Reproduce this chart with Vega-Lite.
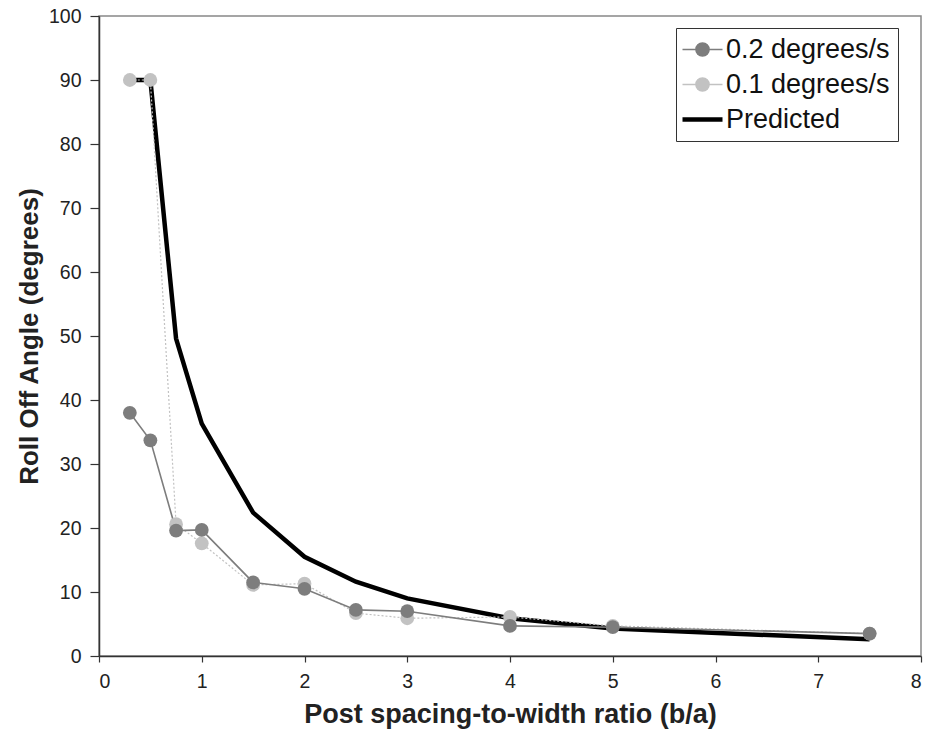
{
  "$schema": "https://vega.github.io/schema/vega-lite/v6.json",
  "autosize": "none",
  "width": 822,
  "height": 640,
  "padding": {"left": 99, "top": 16, "right": 9, "bottom": 84},
  "background": "white",
  "config": {
    "font": "Liberation Sans",
    "view": {"stroke": "#888888", "strokeWidth": 1.5},
    "axis": {
      "grid": false,
      "domainColor": "#333333",
      "domainWidth": 1.5,
      "tickColor": "#333333",
      "tickWidth": 1.2,
      "labelFont": "Liberation Sans",
      "labelFontSize": 19.5,
      "labelColor": "#222222",
      "titleFont": "Liberation Sans",
      "titleFontWeight": "bold",
      "titleColor": "#222222"
    }
  },
  "data": {
    "values": [
      {"series": "Predicted", "x": 0.3, "y": 90},
      {"series": "Predicted", "x": 0.5, "y": 90},
      {"series": "Predicted", "x": 0.75, "y": 49.6},
      {"series": "Predicted", "x": 1, "y": 36.3},
      {"series": "Predicted", "x": 1.5, "y": 22.4},
      {"series": "Predicted", "x": 2, "y": 15.5},
      {"series": "Predicted", "x": 2.5, "y": 11.6},
      {"series": "Predicted", "x": 3, "y": 9.0},
      {"series": "Predicted", "x": 4, "y": 5.9},
      {"series": "Predicted", "x": 5, "y": 4.3},
      {"series": "Predicted", "x": 7.5, "y": 2.6},
      {"series": "0.2 degrees/s", "x": 0.3, "y": 38.0},
      {"series": "0.2 degrees/s", "x": 0.5, "y": 33.7},
      {"series": "0.2 degrees/s", "x": 0.75, "y": 19.6},
      {"series": "0.2 degrees/s", "x": 1, "y": 19.7},
      {"series": "0.2 degrees/s", "x": 1.5, "y": 11.5},
      {"series": "0.2 degrees/s", "x": 2, "y": 10.5},
      {"series": "0.2 degrees/s", "x": 2.5, "y": 7.2},
      {"series": "0.2 degrees/s", "x": 3, "y": 7.0},
      {"series": "0.2 degrees/s", "x": 4, "y": 4.7},
      {"series": "0.2 degrees/s", "x": 5, "y": 4.5},
      {"series": "0.2 degrees/s", "x": 7.5, "y": 3.5},
      {"series": "0.1 degrees/s", "x": 0.3, "y": 90},
      {"series": "0.1 degrees/s", "x": 0.5, "y": 90},
      {"series": "0.1 degrees/s", "x": 0.75, "y": 20.6},
      {"series": "0.1 degrees/s", "x": 1, "y": 17.6},
      {"series": "0.1 degrees/s", "x": 1.5, "y": 11.1},
      {"series": "0.1 degrees/s", "x": 2, "y": 11.3},
      {"series": "0.1 degrees/s", "x": 2.5, "y": 6.7},
      {"series": "0.1 degrees/s", "x": 3, "y": 5.9},
      {"series": "0.1 degrees/s", "x": 4, "y": 6.1},
      {"series": "0.1 degrees/s", "x": 5, "y": 4.7},
      {"series": "0.1 degrees/s", "x": 7.5, "y": 3.5}
    ]
  },
  "encoding": {
    "x": {
      "field": "x", "type": "quantitative",
      "scale": {"domain": [0, 8], "nice": false, "zero": false},
      "axis": {"values": [0, 1, 2, 3, 4, 5, 6, 7, 8], "title": "Post spacing-to-width ratio (b/a)", "titleFontSize": 27, "titlePadding": 11, "labelPadding": 10, "tickSize": 6}
    },
    "y": {
      "field": "y", "type": "quantitative",
      "scale": {"domain": [0, 100], "nice": false},
      "axis": {"values": [0, 10, 20, 30, 40, 50, 60, 70, 80, 90, 100], "title": "Roll Off Angle (degrees)", "titleFontSize": 26, "titlePadding": 6, "labelPadding": 9, "tickSize": 9}
    },
    "color": {
      "field": "series", "type": "nominal",
      "scale": {
        "domain": ["0.2 degrees/s", "0.1 degrees/s", "Predicted"],
        "range": ["#7d7d7d", "#c2c2c2", "#000000"]
      },
      "legend": {
        "title": null,
        "orient": "none",
        "legendX": 577,
        "legendY": 12,
        "labelFont": "Liberation Sans",
        "labelFontSize": 27,
        "labelLimit": 400,
        "labelColor": "#111111",
        "labelOffset": 10,
        "symbolOffset": 5,
        "strokeColor": "#333333",
        "fillColor": "white",
        "padding": 8,
        "rowPadding": 7,
        "symbolSize": 1600,
        "symbolOpacity": 1,
        "encode": {
          "symbols": {
            "update": {
              "shape": {"signal": "datum.value === 'Predicted' ? 'M-1,0L1,0' : 'M-1,0L-0.33,0M0.33,0L1,0M-0.33,0A0.33,0.33,0,1,1,0.33,0A0.33,0.33,0,1,1,-0.33,0Z'"},
              "strokeWidth": {"signal": "datum.value === 'Predicted' ? 4.5 : 1.5"},
              "stroke": {"signal": "datum.value === 'Predicted' ? '#000000' : (datum.value === '0.2 degrees/s' ? '#7d7d7d' : '#c2c2c2')"},
              "fill": {"signal": "datum.value === 'Predicted' ? 'transparent' : (datum.value === '0.2 degrees/s' ? '#7d7d7d' : '#c2c2c2')"},
              "opacity": {"value": 1}
            }
          }
        }
      }
    }
  },
  "layer": [
    {
      "transform": [{"filter": "datum.series === 'Predicted'"}],
      "mark": {"type": "line", "strokeWidth": 4.5, "strokeJoin": "miter"}
    },
    {
      "transform": [{"filter": "datum.series === '0.1 degrees/s'"}],
      "mark": {"type": "line", "strokeWidth": 1.2, "strokeDash": [2, 2]}
    },
    {
      "transform": [{"filter": "datum.series === '0.2 degrees/s'"}],
      "mark": {"type": "line", "strokeWidth": 1.6}
    },
    {
      "transform": [{"filter": "datum.series === '0.1 degrees/s'"}],
      "mark": {"type": "point", "shape": "circle", "filled": true, "size": 190, "opacity": 1}
    },
    {
      "transform": [{"filter": "datum.series === '0.2 degrees/s'"}],
      "mark": {"type": "point", "shape": "circle", "filled": true, "size": 190, "opacity": 1}
    }
  ]
}
